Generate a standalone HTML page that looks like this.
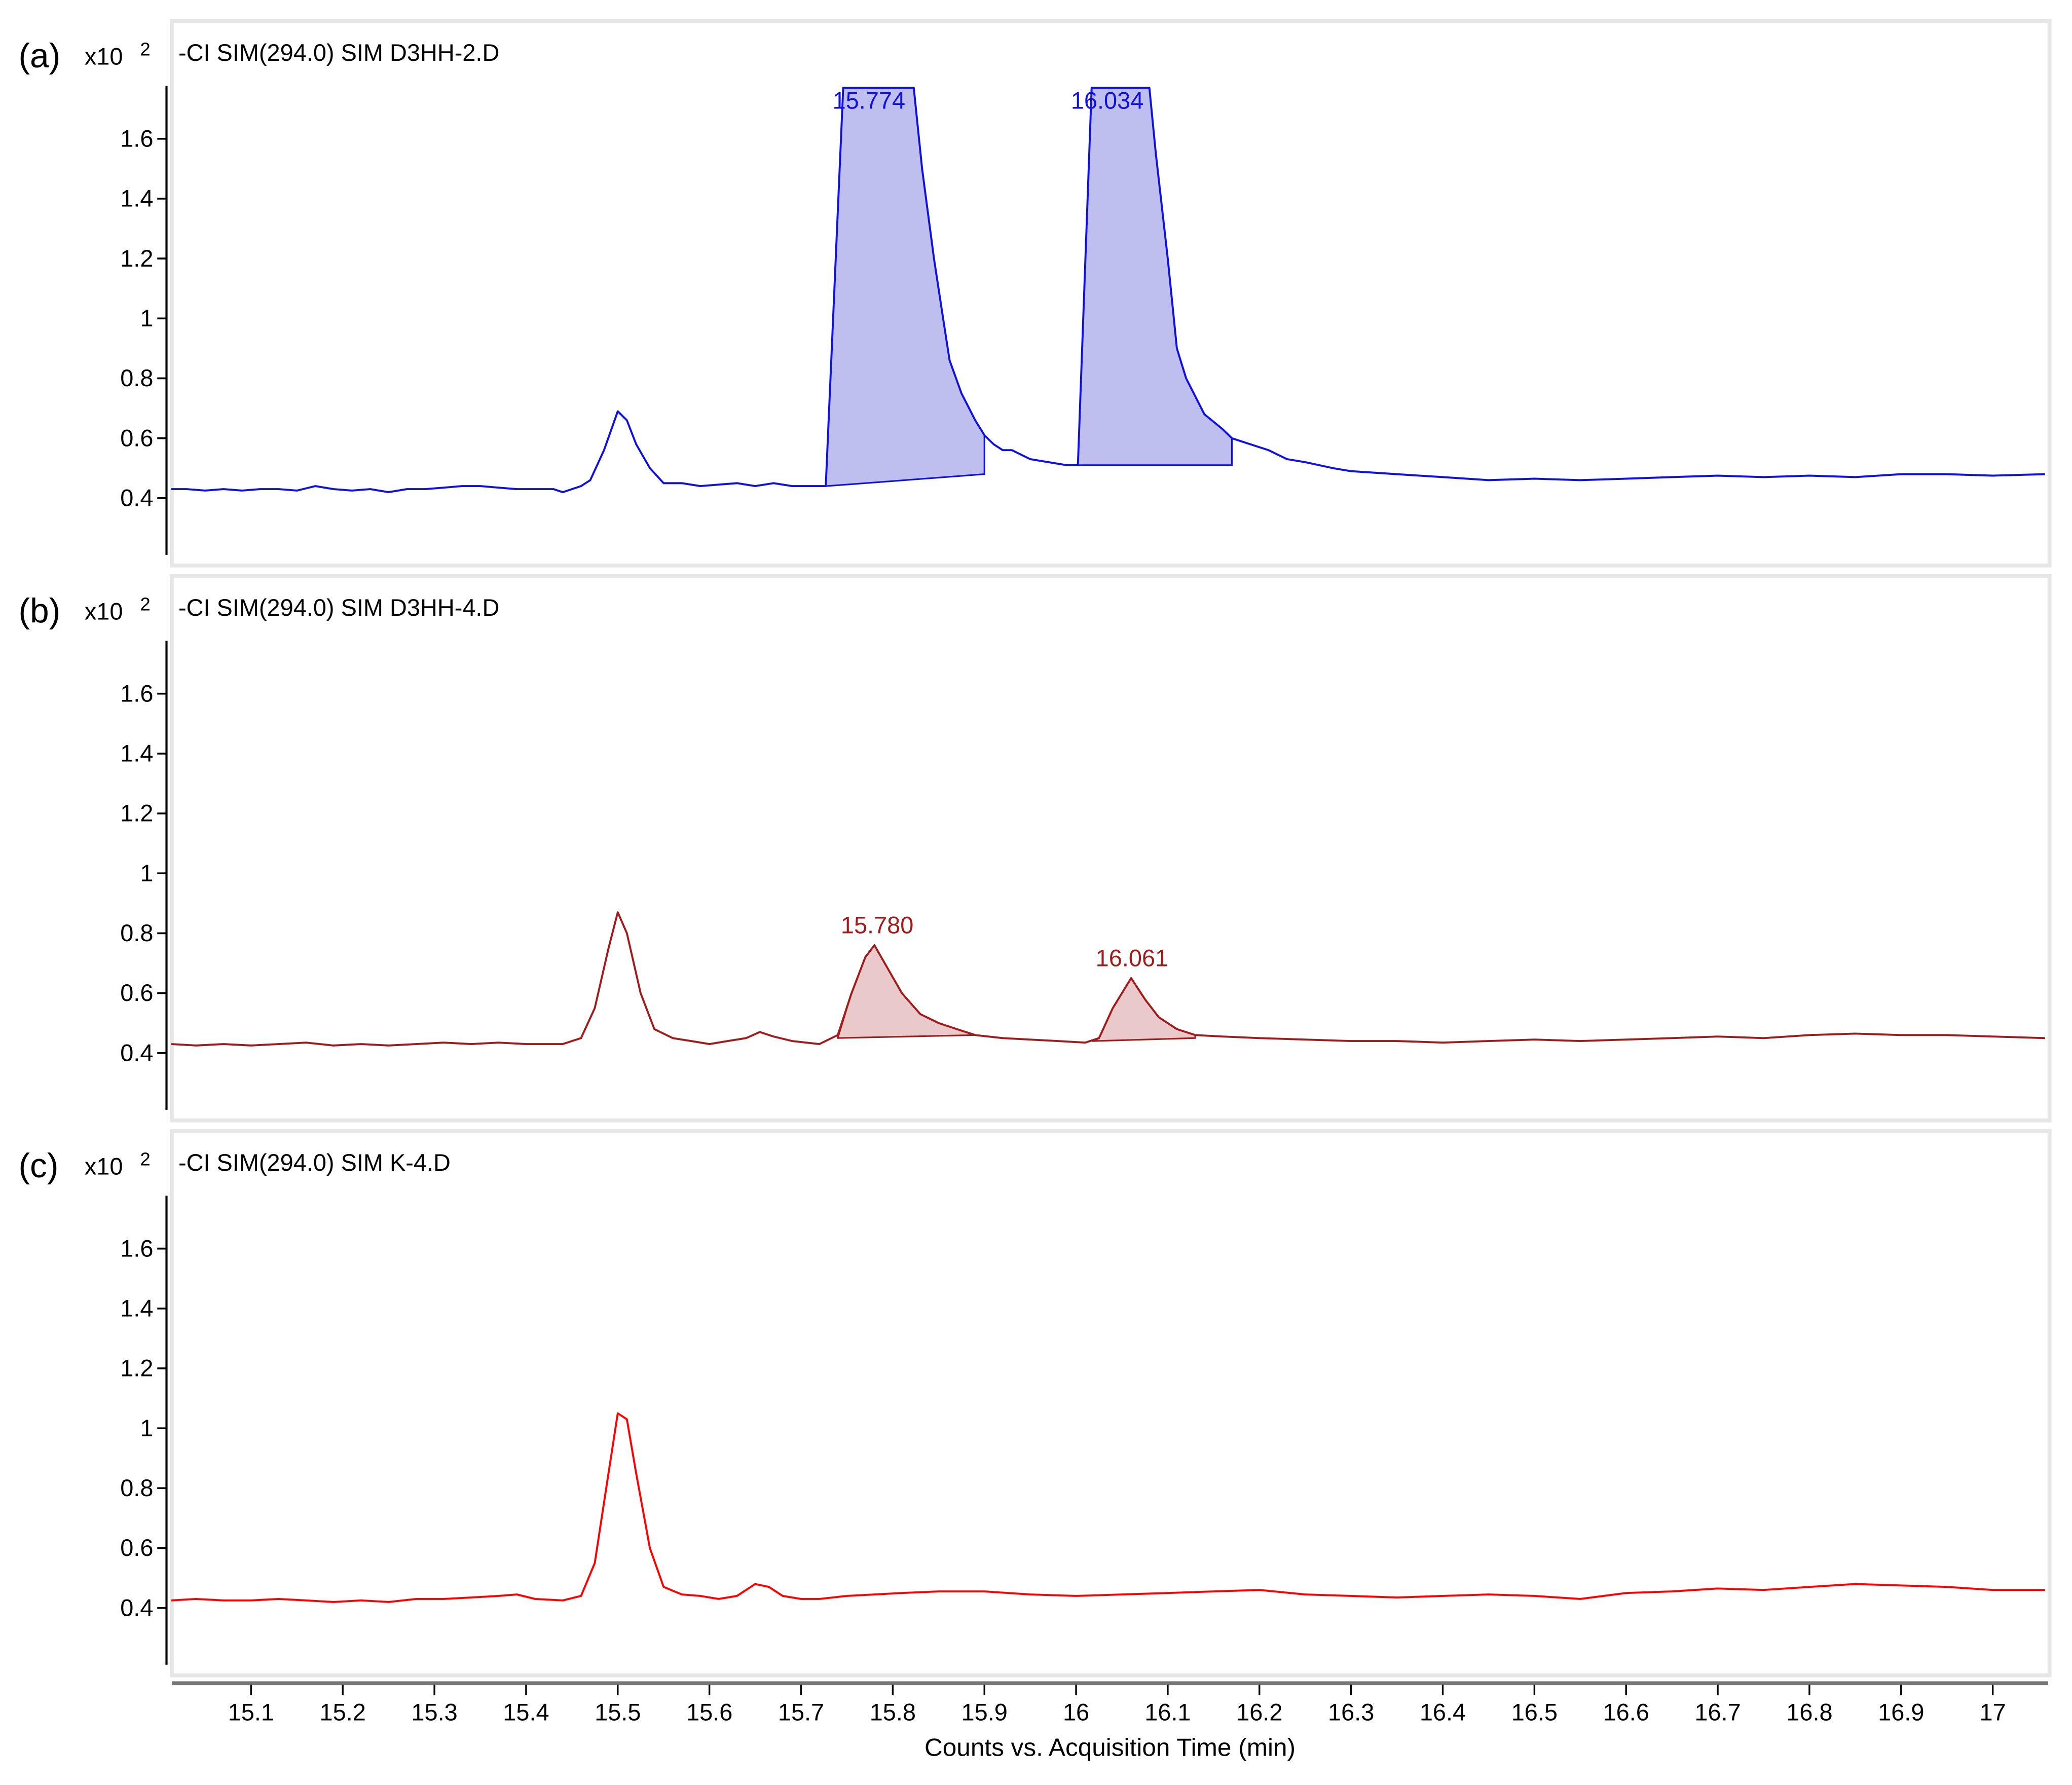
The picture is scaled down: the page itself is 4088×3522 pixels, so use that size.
<!DOCTYPE html>
<html><head><meta charset="utf-8"><style>
html,body{margin:0;padding:0;background:#fff;}
svg{display:block;}
text{font-family:"Liberation Sans",Arial,sans-serif;}
</style></head><body>
<svg id="chart" width="4088" height="3522" viewBox="0 0 1568 1351" preserveAspectRatio="none" xmlns="http://www.w3.org/2000/svg"></svg>
<script>
const xTicks=[15.1,15.2,15.3,15.4,15.5,15.6,15.7,15.8,15.9,16,16.1,16.2,16.3,16.4,16.5,16.6,16.7,16.8,16.9,17];
const xTickLabels=["15.1","15.2","15.3","15.4","15.5","15.6","15.7","15.8","15.9","16","16.1","16.2","16.3","16.4","16.5","16.6","16.7","16.8","16.9","17"];
const yTicks=[0.4,0.6,0.8,1.0,1.2,1.4,1.6];
const yTickLabels=["0.4","0.6","0.8","1","1.2","1.4","1.6"];
const panelTitles=["-CI SIM(294.0) SIM D3HH-2.D","-CI SIM(294.0) SIM D3HH-4.D","-CI SIM(294.0) SIM K-4.D"];
const panelLetters=["(a)","(b)","(c)"];
const tA=[15.013,15.03,15.05,15.07,15.09,15.11,15.13,15.15,15.17,15.19,15.21,15.23,15.25,15.27,15.29,15.31,15.33,15.35,15.37,15.39,15.41,15.43,15.44,15.46,15.47,15.485,15.5,15.51,15.52,15.535,15.55,15.57,15.59,15.61,15.63,15.65,15.67,15.69,15.71,15.727,15.746,15.823,15.832,15.845,15.855,15.862,15.875,15.89,15.9,15.91,15.92,15.93,15.95,15.97,15.99,16.002,16.017,16.08,16.087,16.1,16.11,16.12,16.14,16.16,16.17,16.19,16.21,16.23,16.25,16.28,16.3,16.35,16.4,16.45,16.5,16.55,16.6,16.65,16.7,16.75,16.8,16.85,16.9,16.95,17.0,17.057];
const vA=[.43,.43,.425,.43,.425,.43,.43,.425,.44,.43,.425,.43,.42,.43,.43,.435,.44,.44,.435,.43,.43,.43,.42,.44,.46,.56,.69,.66,.58,.5,.45,.45,.44,.445,.45,.44,.45,.44,.44,.44,1.77,1.77,1.5,1.2,1.0,.86,.75,.66,.61,.58,.56,.56,.53,.52,.51,.51,1.77,1.77,1.55,1.2,.9,.8,.68,.63,.6,.58,.56,.53,.52,.5,.49,.48,.47,.46,.465,.46,.465,.47,.475,.47,.475,.47,.48,.48,.475,.48];
const tB=[15.013,15.04,15.07,15.1,15.13,15.16,15.19,15.22,15.25,15.28,15.31,15.34,15.37,15.4,15.44,15.46,15.475,15.49,15.5,15.51,15.525,15.54,15.56,15.58,15.6,15.62,15.64,15.655,15.67,15.69,15.72,15.74,15.755,15.77,15.78,15.795,15.81,15.83,15.85,15.87,15.89,15.92,15.95,15.98,16.01,16.025,16.04,16.06,16.075,16.09,16.11,16.13,16.16,16.2,16.25,16.3,16.35,16.4,16.45,16.5,16.55,16.6,16.65,16.7,16.75,16.8,16.85,16.9,16.95,17.0,17.057];
const vB=[.43,.425,.43,.425,.43,.435,.425,.43,.425,.43,.435,.43,.435,.43,.43,.45,.55,.75,.87,.8,.6,.48,.45,.44,.43,.44,.45,.47,.455,.44,.43,.46,.6,.72,.76,.68,.6,.53,.5,.48,.46,.45,.445,.44,.435,.45,.55,.65,.58,.52,.48,.46,.455,.45,.445,.44,.44,.435,.44,.445,.44,.445,.45,.455,.45,.46,.465,.46,.46,.455,.45];
const tC=[15.013,15.04,15.07,15.1,15.13,15.16,15.19,15.22,15.25,15.28,15.31,15.34,15.37,15.39,15.41,15.44,15.46,15.475,15.49,15.5,15.51,15.52,15.535,15.55,15.57,15.59,15.61,15.63,15.65,15.665,15.68,15.7,15.72,15.75,15.78,15.81,15.85,15.9,15.95,16.0,16.05,16.1,16.15,16.2,16.25,16.3,16.35,16.4,16.45,16.5,16.55,16.6,16.65,16.7,16.75,16.8,16.85,16.9,16.95,17.0,17.057];
const vC=[.425,.43,.425,.425,.43,.425,.42,.425,.42,.43,.43,.435,.44,.445,.43,.425,.44,.55,.85,1.05,1.03,.85,.6,.47,.445,.44,.43,.44,.48,.47,.44,.43,.43,.44,.445,.45,.455,.455,.445,.44,.445,.45,.455,.46,.445,.44,.435,.44,.445,.44,.43,.45,.455,.465,.46,.47,.48,.475,.47,.46,.46];
const peaksA=[[15.727,.44,15.9,.48],[16.002,.51,16.17,.51]];
const peaksB=[[15.74,.45,15.89,.46],[16.02,.44,16.13,.45]];
const peakLabelsA=[["15.774",15.774,1.70],["16.034",16.034,1.70]];
const peakLabelsB=[["15.780",15.783,0.80],["16.061",16.061,0.69]];

const NS="http://www.w3.org/2000/svg";
const svg=document.getElementById('chart');
function mk(tag,attrs,parent){const e=document.createElementNS(NS,tag);for(const k in attrs)e.setAttribute(k,attrs[k]);(parent||svg).appendChild(e);return e;}
const xS=t=>190+(t-15.1)*693.7;
const panelOff=[0,420,840];
const yS=(v,p)=>377+panelOff[p]-(v-0.4)/0.2*45.33;

const series=[
 {t:tA,v:vA,color:"#1010e0",fill:"rgba(110,110,220,0.45)",peaks:peaksA,labels:peakLabelsA,lc:"#1010e0"},
 {t:tB,v:vB,color:"#a01c1c",fill:"rgba(200,120,120,0.4)",peaks:peaksB,labels:peakLabelsB,lc:"#a01c1c"},
 {t:tC,v:vC,color:"#ff0000",fill:null,peaks:[],labels:[],lc:"#f00"}
];

for(let p=0;p<3;p++){
  const o=panelOff[p];
  const g=mk('g',{});
  
  
  const box=mk('rect',{x:130,y:16+o,width:1421,height:412,fill:'#fff',stroke:'#e6e6e6','stroke-width':3},g);
  
  
  const lt=mk('text',{x:14,y:51+o,'font-size':26,'font-family':'Liberation Serif, serif',fill:'#000'},g);
  lt.textContent=panelLetters[p];
  
  
  const sc=mk('text',{x:64,y:49+o,'font-size':18,fill:'#000'},g);
  sc.textContent='x10';
  
  
  const sp=mk('text',{x:106,y:42+o,'font-size':14,fill:'#000'},g);
  sp.textContent='2';
  
  
  const ti=mk('text',{x:135,y:46+o,'font-size':18,fill:'#000'},g);
  ti.textContent=panelTitles[p];
  
  
  const ax=mk('line',{x1:126,x2:126,y1:65+o,y2:420+o,stroke:'#000','stroke-width':1.6},g);
  
  
  yTicks.forEach((v,i)=>{
    const y=yS(v,p);
    const tk=mk('line',{x1:119,x2:126,y1:y,y2:y,stroke:'#000','stroke-width':1.4},g);
    
    
    const tl=mk('text',{x:116,y:y+6,'font-size':18,'text-anchor':'end',fill:'#000'},g);
    tl.textContent=yTickLabels[i];
    
    
  });
  const s=series[p];
  s.peaks.forEach(pk=>{
    let pts=[[xS(pk[0]),yS(pk[1],p)]];
    for(let i=0;i<s.t.length;i++){if(s.t[i]>pk[0]&&s.t[i]<pk[2])pts.push([xS(s.t[i]),yS(s.v[i],p)]);}
    let endV=pk[3];
    for(let i=1;i<s.t.length;i++){if(s.t[i]>=pk[2]&&s.t[i-1]<pk[2]){const f=(pk[2]-s.t[i-1])/(s.t[i]-s.t[i-1]);endV=s.v[i-1]+f*(s.v[i]-s.v[i-1]);}}
    pts.push([xS(pk[2]),yS(endV,p)]);
    pts.push([xS(pk[2]),yS(pk[3],p)]);
    const pg=mk('polygon',{points:pts.map(q=>q.join(',')).join(' '),fill:s.fill,stroke:s.color,'stroke-width':1.2},g);
    
    
  });
  const d=s.t.map((t,i)=>(i?'L':'M')+xS(t).toFixed(1)+','+yS(s.v[i],p).toFixed(1)).join(' ');
  const tr=mk('path',{d:d,fill:'none',stroke:s.color,'stroke-width':1.5,'stroke-linejoin':'round'},g);
  
  
  s.labels.forEach(l=>{
    const pl=mk('text',{x:xS(l[1]),y:yS(l[2],p),'font-size':18,'text-anchor':'middle',fill:s.lc},g);
    pl.textContent=l[0];
    
    
  });
}
const xa=mk('line',{x1:130,x2:1550,y1:1274,y2:1274,stroke:'#777','stroke-width':3});


xTicks.forEach((t,i)=>{
  const x=xS(t);
  const tk=mk('line',{x1:x,x2:x,y1:1275,y2:1283,stroke:'#000','stroke-width':1.3});
  
  
  const tl=mk('text',{x:x,y:1302,'font-size':18,'text-anchor':'middle',fill:'#000'});
  tl.textContent=xTickLabels[i];
  
  
});
const xt=mk('text',{x:840,y:1329,'font-size':19,'text-anchor':'middle',fill:'#000'});
xt.textContent='Counts vs. Acquisition Time (min)';


</script>
</body></html>
